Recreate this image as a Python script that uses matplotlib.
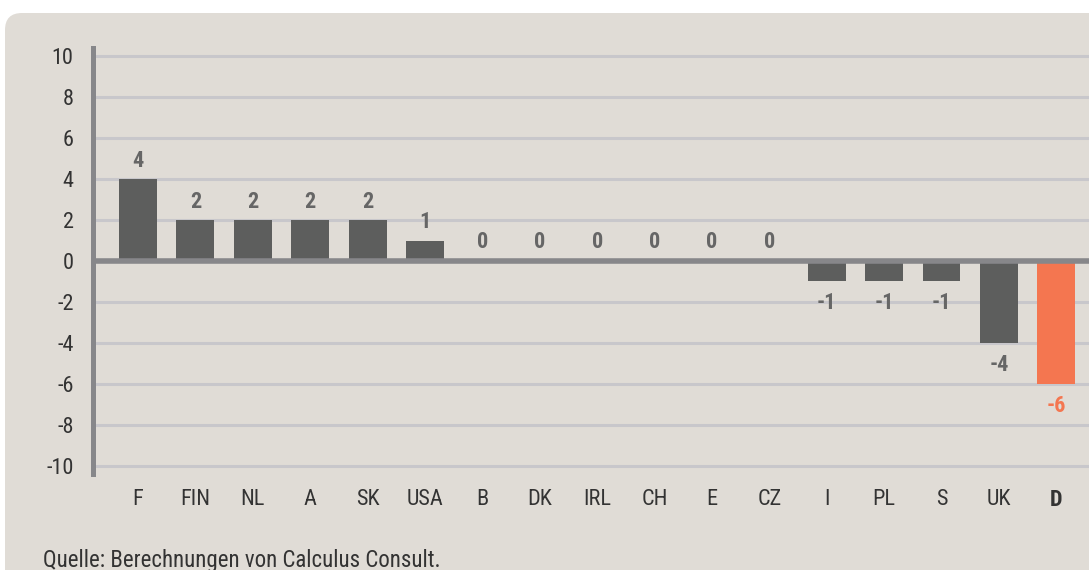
import matplotlib
matplotlib.use("Agg")
import matplotlib.pyplot as plt
from matplotlib import font_manager
from matplotlib.patches import FancyBboxPatch
from matplotlib.transforms import IdentityTransform

# Data
countries = ["F", "FIN", "NL", "A", "SK", "USA", "B", "DK", "IRL", "CH",
             "E", "CZ", "I", "PL", "S", "UK", "D"]
values = [4, 2, 2, 2, 2, 1, 0, 0, 0, 0, 0, 0, -1, -1, -1, -4, -6]
highlight = "D"
y_ticks = [-10, -8, -6, -4, -2, 0, 2, 4, 6, 8, 10]
source_note = "Quelle: Berechnungen von Calculus Consult."

# Colours
PANEL = "#e0dcd6"
BAR = "#5d5e5d"
ACCENT = "#f47650"
GRID = "#c8c7cb"
AXIS = "#87878a"
TICK_TXT = "#333333"
VAL_TXT = "#666666"

available = {f.name for f in font_manager.fontManager.ttflist}
family = []
for name in ["Roboto Condensed", "Liberation Sans Narrow", "Open Sans Condensed"]:
    if name in available:
        family.append(name)
family += ["Liberation Sans", "DejaVu Sans"]
plt.rcParams["font.family"] = family

W, H, DPI = 1089, 570, 100
fig = plt.figure(figsize=(W / DPI, H / DPI), dpi=DPI, facecolor="white")

# Rounded background panel (drawn in pixel coordinates)
panel = FancyBboxPatch((5, -40), W + 40, H - 13 + 40,
                       boxstyle="round,pad=0,rounding_size=17",
                       transform=IdentityTransform(), facecolor=PANEL,
                       edgecolor="none", zorder=-10)
fig.patches.append(panel)

ax = fig.add_axes([93 / W, 1 - 474 / H, 1 - 93 / W, (474 - 48) / H])
ax.set_facecolor("none")
ax.set_zorder(1)

x = list(range(len(countries)))
colors = [ACCENT if c == highlight else BAR for c in countries]
ax.bar(x, values, width=0.66, color=colors, zorder=3)

ax.set_xlim(-0.784, 16.57)
ax.set_ylim(-10.4, 10.4)
ax.set_yticks(y_ticks)
ax.set_yticklabels([str(t) for t in y_ticks])
for t in y_ticks:
    if t != 0:
        ax.axhline(t, color=GRID, lw=2.2, zorder=1)
ax.axhline(0, color=AXIS, lw=4, zorder=4)

for s in ["top", "right", "bottom"]:
    ax.spines[s].set_visible(False)
ax.spines["left"].set_color(AXIS)
ax.spines["left"].set_linewidth(3.6)

ax.tick_params(axis="y", length=0, pad=14, labelsize=16, labelcolor=TICK_TXT)
ax.tick_params(axis="x", length=0, pad=11, labelsize=16, labelcolor=TICK_TXT)
ax.set_xticks(x)
ax.set_xticklabels(countries)
for lbl in ax.get_xticklabels():
    if lbl.get_text() == highlight:
        lbl.set_fontweight("bold")

for xi, v, c in zip(x, values, countries):
    col = ACCENT if c == highlight else VAL_TXT
    off = 9 if v >= 0 else -20
    ax.annotate(str(v), (xi, v), xytext=(0, off), textcoords="offset points",
                ha="center", va="baseline", fontsize=16, fontweight="bold",
                color=col, zorder=5)

fig.text(43 / W, 3 / H, source_note, ha="left", va="baseline",
         fontsize=16.5, color=TICK_TXT)

fig.savefig("out.png", dpi=DPI, facecolor="white")
